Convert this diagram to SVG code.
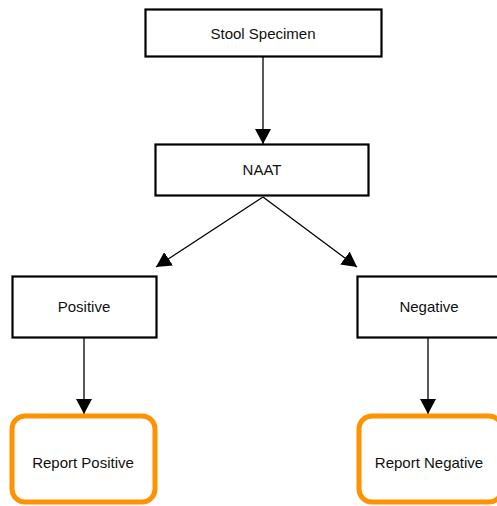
<svg xmlns="http://www.w3.org/2000/svg" width="497" height="506" viewBox="0 0 497 506">
  <style>
    .box { fill: #ffffff; stroke: #000000; stroke-width: 2.2; }
    .result { fill: #ffffff; stroke: #ff9200; stroke-width: 5; }
    .label { font-family: "Liberation Sans", Arial, sans-serif; font-size: 15px; fill: #111111; text-anchor: middle; dominant-baseline: central; }
    .edge { stroke: #000000; stroke-width: 1.3; fill: none; marker-end: url(#head); }
  </style>
  <defs>
    <marker id="head" markerUnits="userSpaceOnUse" markerWidth="16" markerHeight="16" viewBox="0 0 16 16" refX="15" refY="8" orient="auto">
      <path d="M0,0 L15,8 L0,16 Z" fill="#000000"/>
    </marker>
  </defs>

  <rect width="497" height="506" fill="#ffffff"/>

  <g id="connectors">
    <line class="edge" x1="263" y1="57" x2="263" y2="144"/>
    <line class="edge" x1="263" y1="197" x2="156" y2="267"/>
    <line class="edge" x1="263" y1="197" x2="357" y2="267"/>
    <line class="edge" x1="84" y1="338" x2="84" y2="414"/>
    <line class="edge" x1="428" y1="338" x2="428" y2="414"/>
  </g>

  <g id="stool-specimen">
    <rect class="box" x="145.5" y="9.5" width="236" height="47"/>
    <text class="label" x="263" y="33">Stool Specimen</text>
  </g>

  <g id="naat">
    <rect class="box" x="155.5" y="144.5" width="213" height="51"/>
    <text class="label" x="262" y="169">NAAT</text>
  </g>

  <g id="positive">
    <rect class="box" x="12.5" y="276.5" width="144" height="61"/>
    <text class="label" x="84" y="306">Positive</text>
  </g>

  <g id="negative">
    <rect class="box" x="357.5" y="276.5" width="144" height="61"/>
    <text class="label" x="429" y="306">Negative</text>
  </g>

  <g id="report-positive">
    <rect class="result" x="12" y="416" width="143" height="86" rx="13" ry="13"/>
    <text class="label" x="83" y="462">Report Positive</text>
  </g>

  <g id="report-negative">
    <rect class="result" x="359" y="416" width="143" height="86" rx="13" ry="13"/>
    <text class="label" x="429" y="462">Report Negative</text>
  </g>
</svg>
